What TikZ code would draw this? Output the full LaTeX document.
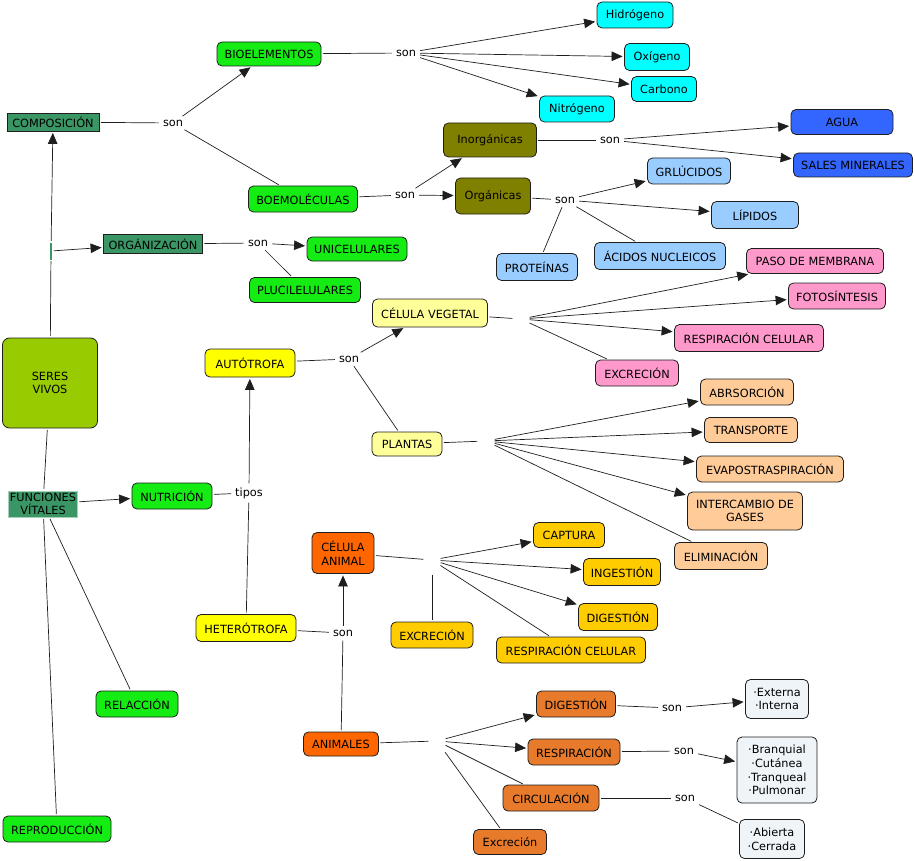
\documentclass[tikz,border=0pt]{standalone}
\usepackage{fontspec}
\setmainfont{DejaVu Sans}
\usetikzlibrary{arrows.meta}
\newcommand\cmfs{\fontsize{11.3pt}{13.7pt}\selectfont}
\definecolor{cteal}{RGB}{58,150,100}
\definecolor{cgreen}{RGB}{20,236,20}
\definecolor{ccyan}{RGB}{0,255,255}
\definecolor{colive}{RGB}{128,128,0}
\definecolor{cblue}{RGB}{51,102,255}
\definecolor{clblue}{RGB}{153,204,255}
\definecolor{cpink}{RGB}{255,153,204}
\definecolor{cpeach}{RGB}{255,204,153}
\definecolor{cygreen}{RGB}{153,204,0}
\definecolor{cyellow}{RGB}{255,255,0}
\definecolor{clyellow}{RGB}{255,255,153}
\definecolor{corange}{RGB}{255,102,0}
\definecolor{cgold}{RGB}{255,204,0}
\definecolor{corangeb}{RGB}{232,122,44}
\definecolor{cpale}{RGB}{238,244,248}
\definecolor{cline}{RGB}{30,30,30}
\begin{document}
\begin{tikzpicture}[x=1pt,y=-1pt,
  box/.style={draw=cline, line width=0.8pt, rounded corners=5pt, inner sep=0pt, align=center, font=\cmfs, text=black},
  sq/.style={box, rounded corners=0pt},
  sz/.style 2 args={minimum width=#1pt, minimum height=#2pt},
  lbl/.style={inner sep=2.5pt, font=\cmfs, text=black},
  jn/.style={inner sep=0pt, minimum width=14pt, minimum height=#1pt},
  ln/.style={draw=cline, line width=0.7pt, shorten <=1.5pt, shorten >=1.5pt},
  ar/.style={ln, -{Triangle[length=11pt,width=9.5pt]}}
]
\useasboundingbox (0,0) rectangle (915,861);

% ---- nodes ----
\node[sq, fill=cteal, sz={92}{18}] (comp) at (53,122) {COMPOSICIÓN};
\node[box, fill=cgreen, sz={104}{24}] (bio) at (269,54) {BIOELEMENTOS};
\node[box, fill=cgreen, sz={109}{26}] (boem) at (303,199) {BOEMOLÉCULAS};
\node[sq, fill=cteal, sz={99}{19}] (org) at (153,244) {ORGÁNIZACIÓN};
\node[box, fill=cgreen, sz={100}{24}] (uni) at (357,249) {UNICELULARES};
\node[box, fill=cgreen, sz={111}{25}] (plu) at (305,290) {PLUCILELULARES};
\node[fill=cteal, inner sep=0pt, minimum width=2.5pt, minimum height=17pt] (tiny) at (51,251) {};

\node[box, fill=ccyan, sz={76}{26}] (hid) at (635,15) {Hidrógeno};
\node[box, fill=ccyan, sz={65}{27}] (oxi) at (657,57) {Oxígeno};
\node[box, fill=ccyan, sz={65}{25}] (car) at (664,89) {Carbono};
\node[box, fill=ccyan, sz={75}{26}] (nit) at (577,109) {Nitrógeno};

\node[box, fill=colive, sz={93}{34}] (inor) at (490,140) {Inorgánicas};
\node[box, fill=colive, sz={75}{36}] (orgn) at (493,196) {Orgánicas};
\node[box, fill=cblue, sz={102}{25}] (agua) at (842,122) {AGUA};
\node[box, fill=cblue, sz={119}{24}] (sales) at (853,165) {SALES MINERALES};
\node[box, fill=clblue, sz={83}{26}] (glu) at (689,171) {GRLÚCIDOS};
\node[box, fill=clblue, sz={87}{27}] (lip) at (755,215) {LÍPIDOS};
\node[box, fill=clblue, sz={81}{27}] (prot) at (537,267) {PROTEÍNAS};
\node[box, fill=clblue, sz={131}{27}] (acid) at (660,256) {ÁCIDOS NUCLEICOS};

\node[box, fill=cpink, sz={137}{25}] (paso) at (815,261) {PASO DE MEMBRANA};
\node[box, fill=cpink, sz={97}{26}] (foto) at (837,296) {FOTOSÍNTESIS};
\node[box, fill=cpink, sz={149}{27}] (respc) at (749,338) {RESPIRACIÓN CELULAR};
\node[box, fill=cpink, sz={83}{26}] (excv) at (637,373) {EXCRECIÓN};

\node[box, fill=cpeach, sz={93}{26}] (abs) at (747,392) {ABRSORCIÓN};
\node[box, fill=cpeach, sz={93}{25}] (trans) at (751,430) {TRANSPORTE};
\node[box, fill=cpeach, sz={147}{26}] (evap) at (770,469) {EVAPOSTRASPIRACIÓN};
\node[box, fill=cpeach, sz={115}{38}] (inter) at (745,511) {INTERCAMBIO DE\\GASES};
\node[box, fill=cpeach, sz={93}{27}] (elim) at (721,556) {ELIMINACIÓN};

\node[box, fill=cygreen, sz={95}{90}, rounded corners=7pt] (seres) at (50,383) {SERES\\VIVOS};
\node[box, fill=cyellow, sz={90}{28}] (auto) at (250,363) {AUTÓTROFA};
\node[box, fill=clyellow, sz={115}{28}] (veg) at (430,313) {CÉLULA VEGETAL};
\node[box, fill=clyellow, sz={70}{24}] (plan) at (407,444) {PLANTAS};

\node[sq, fill=cteal, draw=cteal!45, sz={69}{26}] (fun) at (43,504) {FUNCIONES\\VÍTALES};
\node[box, fill=cgreen, sz={80}{26}] (nut) at (172,496) {NUTRICIÓN};
\node[box, fill=cgreen, sz={82}{26}] (rel) at (137,704) {RELACCIÓN};
\node[box, fill=cgreen, sz={108}{26}] (rep) at (57,829) {REPRODUCCIÓN};

\node[box, fill=cyellow, sz={100}{27}] (het) at (246,628) {HETERÓTROFA};
\node[box, fill=corange, sz={62}{41}] (cela) at (343,553) {CÉLULA\\ANIMAL};
\node[box, fill=cgold, sz={71}{25}] (cap) at (569,535) {CAPTURA};
\node[box, fill=cgold, sz={77}{27}] (ing) at (622,572) {INGESTIÓN};
\node[box, fill=cgold, sz={79}{27}] (dig1) at (618,617) {DIGESTIÓN};
\node[box, fill=cgold, sz={82}{26}] (exc1) at (432,635) {EXCRECIÓN};
\node[box, fill=cgold, sz={149}{26}] (resp1) at (571,650) {RESPIRACIÓN CELULAR};

\node[box, fill=corange, sz={75}{24}] (ani) at (341,744) {ANIMALES};
\node[box, fill=corangeb, sz={79}{26}] (dig2) at (576,704) {DIGESTIÓN};
\node[box, fill=corangeb, sz={92}{26}] (resp2) at (574,752) {RESPIRACIÓN};
\node[box, fill=corangeb, sz={96}{26}] (circ) at (551,798) {CIRCULACIÓN};
\node[box, fill=corangeb, sz={73}{25}] (exc2) at (510,842) {Excreción};

\node[box, fill=cpale, sz={63}{39}] (ext) at (777,699) {·Externa\\·Interna};
\node[box, fill=cpale, sz={80}{66}] (bra) at (777,770) {·Branquial\\·Cutánea\\·Tranqueal\\·Pulmonar};
\node[box, fill=cpale, sz={65}{39}] (abi) at (772,839) {·Abierta\\·Cerrada};

% ---- linking phrases ----
\node[lbl] (s1) at (173,123) {son};
\node[lbl] (s2) at (406,53) {son};
\node[lbl] (s3) at (405,195) {son};
\node[lbl] (s4) at (610,140) {son};
\node[lbl] (s5) at (565,200) {son};
\node[lbl] (s6) at (258,243) {son};
\node[lbl] (t1) at (249,493) {tipos};
\node[lbl] (s7) at (349,359) {son};
\node[lbl] (s8) at (343,633) {son};
\node[lbl] (s9) at (672,708) {son};
\node[lbl] (s10) at (684,751) {son};
\node[lbl] (s11) at (685,798) {son};

\node[jn=8] (j1) at (521,319) {};
\node[jn=8] (j2) at (486,441) {};
\node[jn=26] (j3) at (432,560) {};
\node[jn=26] (j4) at (437,741) {};

% ---- connectors ----
\draw[ln] (seres) -- (tiny);
\draw[ar] (tiny) -- (comp);
\draw[ar] (tiny) -- (org);
\draw[ln] (seres) -- (fun);
\draw[ar] (fun) -- (nut);
\draw[ln] (fun) -- (rel);
\draw[ln] (fun) -- (rep);

\draw[ln] (comp) -- (s1);
\draw[ar] (s1) -- (bio);
\draw[ln] (s1) -- (boem);

\draw[ln] (bio) -- (s2);
\draw[ar] (s2) -- (hid);
\draw[ar] (s2) -- (oxi);
\draw[ar] (s2) -- (car);
\draw[ar] (s2) -- (nit);

\draw[ln] (boem) -- (s3);
\draw[ar] (s3) -- (inor);
\draw[ar] (s3) -- (orgn);

\draw[ln] (inor) -- (s4);
\draw[ar] (s4) -- (agua);
\draw[ar] (s4) -- (sales);

\draw[ln] (orgn) -- (s5);
\draw[ar] (s5) -- (glu);
\draw[ar] (s5) -- (lip);
\draw[ln] (s5) -- (prot);
\draw[ln] (s5) -- (acid);

\draw[ln] (org) -- (s6);
\draw[ar] (s6) -- (uni);
\draw[ln] (s6) -- (plu);

\draw[ln] (nut) -- (t1);
\draw[ar] (t1) -- (auto);
\draw[ln] (t1) -- (het);

\draw[ln] (auto) -- (s7);
\draw[ar] (s7) -- (veg);
\draw[ln] (s7) -- (plan);

\draw[ln] (veg) -- (j1);
\draw[ar] (j1) -- (paso);
\draw[ar] (j1) -- (foto);
\draw[ar] (j1) -- (respc);
\draw[ln] (j1) -- (excv);

\draw[ln] (plan) -- (j2);
\draw[ar] (j2) -- (abs);
\draw[ar] (j2) -- (trans);
\draw[ar] (j2) -- (evap);
\draw[ar] (j2) -- (inter);
\draw[ln] (j2) -- (elim);

\draw[ln] (het) -- (s8);
\draw[ar] (s8) -- (cela);
\draw[ln] (s8) -- (ani);

\draw[ln] (cela) -- (j3);
\draw[ar] (j3) -- (cap);
\draw[ar] (j3) -- (ing);
\draw[ar] (j3) -- (dig1);
\draw[ln] (j3) -- (resp1);
\draw[ln] (j3) -- (exc1);

\draw[ln] (ani) -- (j4);
\draw[ar] (j4) -- (dig2);
\draw[ar] (j4) -- (resp2);
\draw[ln] (j4) -- (circ);
\draw[ln] (j4) -- (exc2);

\draw[ln] (dig2) -- (s9);
\draw[ar] (s9) -- (ext);
\draw[ln] (resp2) -- (s10);
\draw[ar] (s10) -- (bra);
\draw[ln] (circ) -- (s11);
\draw[ln] (s11) -- (abi);
\end{tikzpicture}
\end{document}
